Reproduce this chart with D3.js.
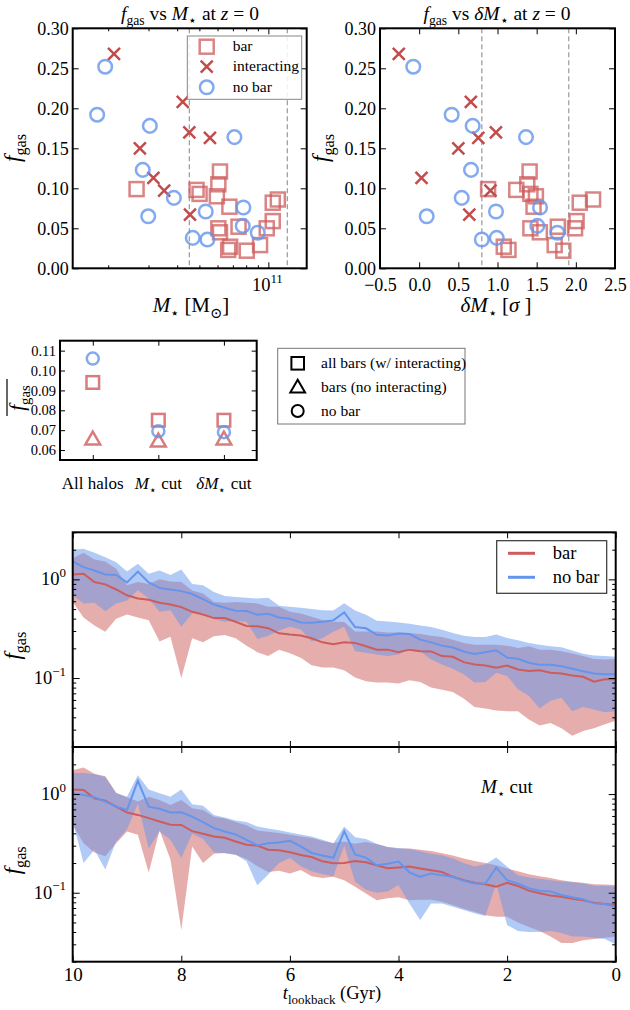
<!DOCTYPE html>
<html><head><meta charset="utf-8">
<script src="https://cdn.jsdelivr.net/npm/d3@7"></script>
<style>body{margin:0;background:#fff}svg{display:block}svg text{font-family:'Liberation Serif','DejaVu Serif',serif}</style>
</head><body>
<svg id="c" width="630" height="1010"></svg>
<script>
// ---------------- DATA ----------------
// z=0 scatter: barred (non-interacting), interacting, unbarred
const barMass  = [2.66e10,6.15e10,6.05e10,4.86e10,5.01e10,5.96e10,6.76e10,6.05e10,6.15e10,6.81e10,6.68e10,8.05e10,9.20e10,1.045e11,1.045e11,1.10e11,9.84e10,7.41e10];
const barDelta = [0.88,1.41,1.38,1.24,1.42,1.49,1.46,1.42,1.54,1.08,1.14,1.84,1.73,2.01,2.05,2.22,1.99,1.77];
const barFgas  = [0.099,0.121,0.105,0.098,0.093,0.090,0.077,0.050,0.045,0.027,0.023,0.022,0.029,0.059,0.082,0.086,0.050,0.052];
const intMass  = [2.12e10,4.23e10,4.52e10,5.56e10,2.75e10,3.15e10,3.51e10,4.55e10];
const intDelta = [-0.26,0.66,0.98,0.755,0.50,0.03,0.91,0.64];
const intFgas  = [0.268,0.208,0.170,0.163,0.150,0.113,0.097,0.067];
const noMass   = [1.94e10,1.79e10,3.04e10,7.11e10,2.83e10,3.87e10,2.99e10,5.33e10,7.78e10,7.73e10,8.99e10,4.68e10,5.42e10];
const noDelta  = [-0.075,0.415,0.683,1.364,0.662,0.543,0.096,0.981,1.543,1.508,1.764,0.99,0.80];
const noFgas   = [0.252,0.192,0.178,0.164,0.123,0.088,0.065,0.071,0.076,0.053,0.0445,0.038,0.036];
const massCuts  = [4.52e10,1.21e11];
const deltaCuts = [0.80,1.91];
const massDomain  = [1.4e10,1.47e11];
const fgasTicks   = [0,0.05,0.10,0.15,0.20,0.25,0.30];
const massMajor   = [1e11];
const massMinor   = [2e10,3e10,4e10,5e10,6e10,7e10,8e10,9e10];
const deltaTicks  = [-0.5,0,0.5,1.0,1.5,2.0,2.5];

// mean f_gas per selection
const cutKeys       = ['all','mcut','dmcut'];
const meanAllBars   = [0.094,0.075,0.075];
const meanBarsNoInt = [0.065,0.064,0.065];
const meanNoBar     = [0.106,0.0695,0.069];
const meanTicks     = [0.06,0.07,0.08,0.09,0.10,0.11];

// time evolution
const tLook = [10.0,9.8,9.6,9.4,9.2,9.0,8.8,8.6,8.4,8.2,8.0,7.8,7.6,7.4,7.2,7.0,6.8,6.6,6.4,6.2,6.0,5.8,5.6,5.4,5.2,5.0,4.8,4.6,4.4,4.2,4.0,3.8,3.6,3.4,3.2,3.0,2.8,2.6,2.4,2.2,2.0,1.8,1.6,1.4,1.2,1.0,0.8,0.6,0.4,0.2,0.0];
// all halos
const barMedAll = [1.12,1.14,0.94,0.89,0.79,0.69,0.64,0.62,0.58,0.556, 0.523,0.469,0.44,0.405,0.405,0.372,0.337,0.335,0.32,0.284, 0.276,0.27,0.253,0.23,0.22,0.23,0.227,0.21,0.194,0.194, 0.183,0.194,0.187,0.186,0.167,0.164,0.145,0.137,0.134,0.127, 0.134,0.122,0.118,0.12,0.113,0.111,0.106,0.103,0.092,0.097, 0.097];
const barHiAll  = [1.64,1.86,1.59,1.52,1.28,0.87,0.94,0.9,1.0,0.95, 0.94,0.77,0.72,0.59,0.58,0.59,0.58,0.57,0.527,0.527, 0.469,0.45,0.418,0.387,0.372,0.37,0.297,0.297,0.297,0.29, 0.29,0.286,0.28,0.269,0.26,0.245,0.227,0.218,0.218,0.218, 0.213,0.202,0.21,0.194,0.194,0.187,0.177,0.167,0.156,0.154, 0.156];
const barLoAll  = [0.59,0.41,0.34,0.295,0.4,0.44,0.41,0.386,0.234,0.262, 0.1,0.253,0.23,0.265,0.273,0.253,0.213,0.183,0.167,0.194, 0.178,0.161,0.135,0.128,0.128,0.12,0.101,0.093,0.09,0.09, 0.088,0.095,0.091,0.08,0.076,0.072,0.062,0.051,0.049,0.047, 0.046,0.046,0.038,0.033,0.035,0.031,0.026,0.029,0.031,0.034, 0.037];
const noMedAll  = [1.52,1.33,1.23,1.12,1.11,0.93,1.20,0.93,0.82,0.79, 0.76,0.71,0.63,0.556,0.515,0.48,0.477,0.438,0.448,0.411, 0.399,0.366,0.364,0.372,0.384,0.462,0.329,0.319,0.275,0.27, 0.282,0.28,0.245,0.23,0.213,0.204,0.186,0.175,0.183,0.191, 0.161,0.157,0.143,0.136,0.136,0.132,0.124,0.117,0.111,0.109, 0.109];
const noHiAll   = [2.0,2.04,1.86,1.68,1.49,1.20,1.44,1.14,1.23,1.11, 1.26,0.90,0.87,0.745,0.68,0.664,0.65,0.64,0.65,0.54, 0.527,0.515,0.50,0.487,0.484,0.574,0.484,0.437,0.381,0.375, 0.366,0.355,0.34,0.329,0.309,0.286,0.269,0.26,0.26,0.276, 0.255,0.241,0.227,0.218,0.21,0.205,0.19,0.176,0.169,0.167, 0.164];
const noLoAll   = [0.69,0.57,0.58,0.476,0.57,0.61,0.775,0.64,0.469,0.487, 0.331,0.45,0.46,0.396,0.372,0.378,0.372,0.249,0.269,0.304, 0.331,0.31,0.234,0.253,0.295,0.331,0.187,0.18,0.173,0.167, 0.173,0.2,0.187,0.154,0.137,0.124,0.109,0.09,0.091,0.113, 0.105,0.077,0.066,0.049,0.059,0.063,0.046,0.051,0.048,0.045, 0.046];
// M* cut
const barMedCut = [1.11,1.10,0.905,0.857,0.745,0.65,0.615,0.57,0.527,0.49, 0.487,0.421,0.396,0.372,0.36,0.331,0.307,0.3,0.273,0.269, 0.257,0.241,0.23,0.208,0.199,0.2,0.21,0.204,0.19,0.177, 0.18,0.184,0.176,0.169,0.162,0.145,0.134,0.126,0.122,0.115, 0.126,0.117,0.105,0.099,0.094,0.091,0.087,0.084,0.079,0.077, 0.075];
const barHiCut  = [1.74,1.86,1.61,1.52,1.03,0.93,0.84,0.94,0.87,0.775, 0.87,0.72,0.69,0.59,0.565,0.52,0.483,0.427,0.414,0.402, 0.386,0.372,0.358,0.334,0.319,0.33,0.314,0.326,0.31,0.29, 0.28,0.28,0.273,0.265,0.252,0.238,0.222,0.21,0.2,0.19, 0.176,0.165,0.154,0.147,0.141,0.134,0.129,0.126,0.122,0.121, 0.12];
const barLoCut  = [0.49,0.318,0.256,0.234,0.318,0.418,0.386,0.16,0.43,0.217, 0.042,0.295,0.2,0.249,0.253,0.243,0.22,0.186,0.162,0.167, 0.157,0.17,0.147,0.141,0.145,0.134,0.115,0.098,0.084,0.088, 0.09,0.084,0.085,0.085,0.081,0.075,0.069,0.064,0.059,0.057, 0.057,0.05,0.045,0.041,0.036,0.031,0.031,0.033,0.034,0.035, 0.036];
const noMedCut  = [1.02,0.98,0.93,0.84,0.745,0.69,1.36,0.745,0.71,0.65, 0.654,0.59,0.52,0.451,0.418,0.39,0.344,0.302,0.318,0.323, 0.336,0.295,0.253,0.238,0.226,0.42,0.245,0.227,0.19,0.197, 0.207,0.161,0.145,0.157,0.15,0.145,0.132,0.124,0.124,0.18, 0.134,0.124,0.111,0.105,0.103,0.095,0.09,0.086,0.078,0.077, 0.072];
const noHiCut   = [1.64,1.64,1.59,1.49,1.02,0.94,1.55,1.11,1.02,0.94, 1.11,0.79,0.76,0.615,0.58,0.54,0.52,0.469,0.448,0.43, 0.408,0.39,0.372,0.344,0.315,0.47,0.366,0.35,0.314,0.29, 0.284,0.277,0.263,0.249,0.24,0.222,0.2,0.185,0.194,0.227, 0.183,0.15,0.143,0.139,0.134,0.13,0.128,0.124,0.118,0.118, 0.115];
const noLoCut   = [0.53,0.2,0.273,0.172,0.331,0.44,0.8,0.28,0.418,0.344, 0.225,0.396,0.35,0.257,0.252,0.243,0.208,0.119,0.153,0.2, 0.225,0.186,0.165,0.155,0.147,0.30,0.129,0.107,0.1,0.103, 0.12,0.078,0.053,0.078,0.078,0.072,0.067,0.062,0.058,0.124, 0.047,0.041,0.04,0.04,0.041,0.039,0.036,0.036,0.035,0.034, 0.03];
const timeTicks = [10,8,6,4,2,0];
const logMajor  = [0.1,1];
const logMinor  = [0.02,0.03,0.04,0.05,0.06,0.07,0.08,0.09,0.2,0.3,0.4,0.5,0.6,0.7,0.8,0.9,2,3];

// ---------------- DRAWING ----------------
const SERIF = "'Liberation Serif','DejaVu Serif',serif";
const RED = '#cd5c5c', BLUE = '#6495ed', XRED = '#c24c4c';
const svg = d3.select('#c').attr('font-family', SERIF);

function rich(parent, x, y, parts, fs, anchor, rot) {
  const t = parent.append('text').attr('font-size', fs).attr('text-anchor', anchor || 'start').attr('fill', '#000');
  if (rot) t.attr('transform', `translate(${x},${y}) rotate(-90)`); else t.attr('x', x).attr('y', y);
  let cur = 0;
  parts.forEach(p => {
    const o = typeof p === 'string' ? {t: p} : p;
    const off = o.sub ? fs * 0.28 : o.sup ? -fs * 0.45 : 0;
    const ts = t.append('tspan').attr('dy', off - cur).text(o.t);
    cur = off;
    if (o.sub || o.sup) ts.attr('font-size', fs * 0.7);
    if (o.it) ts.attr('font-style', 'italic');
  });
  return t;
}
function styleAxis(g, fs) {
  g.attr('font-family', SERIF).attr('font-size', fs);
  g.select('.domain').remove();
  g.selectAll('.tick line').attr('stroke', '#000').attr('stroke-width', 1);
  g.selectAll('.tick text').attr('fill', '#000');
}
function frame(b) {
  svg.append('rect').attr('x', b.l).attr('y', b.t).attr('width', b.r - b.l).attr('height', b.b - b.t)
    .attr('fill', 'none').attr('stroke', '#000').attr('stroke-width', 2);
}
const FGAS = [{t:'f', it:true}, {t:'gas', sub:true}];

// ---- top scatter panels ----
const TL = {l:72.7, r:306.7, t:28.3, b:268.3};
const TR = {l:380, r:615, t:28.3, b:268.3};
const xMass = d3.scaleLog().domain(massDomain).range([TL.l, TL.r]);
const xDelta = d3.scaleLinear().domain([-0.5, 2.5]).range([TR.l, TR.r]);
const yFgas = d3.scaleLinear().domain([0, 0.30]).range([TL.b, TL.t]);

function scatterPanel(B, xs, cuts, bx, ix, nx) {
  const g = svg.append('g');
  g.selectAll('line.cut').data(cuts).join('line')
    .attr('x1', d => xs(d)).attr('x2', d => xs(d)).attr('y1', B.t).attr('y2', B.b)
    .attr('stroke', '#999').attr('stroke-width', 1.2).attr('stroke-dasharray', '5,3');
  g.selectAll('rect.sq').data(barFgas).join('rect')
    .attr('x', (d, i) => xs(bx[i]) - 7).attr('y', d => yFgas(d) - 7).attr('width', 14).attr('height', 14)
    .attr('fill', 'none').attr('stroke', RED).attr('stroke-opacity', 0.75).attr('stroke-width', 2.5);
  g.selectAll('path.x').data(intFgas).join('path')
    .attr('d', (d, i) => { const x = xs(ix[i]), y = yFgas(d); return `M${x-6},${y-6}L${x+6},${y+6}M${x-6},${y+6}L${x+6},${y-6}`; })
    .attr('fill', 'none').attr('stroke', XRED).attr('stroke-width', 2.5);
  g.selectAll('circle').data(noFgas).join('circle')
    .attr('cx', (d, i) => xs(nx[i])).attr('cy', d => yFgas(d)).attr('r', 6.8)
    .attr('fill', 'none').attr('stroke', BLUE).attr('stroke-opacity', 0.8).attr('stroke-width', 2.5);
  styleAxis(svg.append('g').attr('transform', `translate(${B.l},0)`)
    .call(d3.axisLeft(yFgas).tickValues(fgasTicks).tickSize(-6).tickPadding(4).tickFormat(d3.format('.2f'))), 18);
  styleAxis(svg.append('g').attr('transform', `translate(${B.r},0)`)
    .call(d3.axisRight(yFgas).tickValues(fgasTicks).tickSize(-6).tickFormat('')), 18);
}
scatterPanel(TL, xMass, massCuts, barMass, intMass, noMass);
scatterPanel(TR, xDelta, deltaCuts, barDelta, intDelta, noDelta);

[[d3.axisBottom, TL.b], [d3.axisTop, TL.t]].forEach(([A, y]) => {
  styleAxis(svg.append('g').attr('transform', `translate(0,${y})`).call(A(xMass).tickValues(massMajor).tickSize(-6).tickFormat('')), 18);
  styleAxis(svg.append('g').attr('transform', `translate(0,${y})`).call(A(xMass).tickValues(massMinor).tickSize(-3).tickFormat('')), 18);
});
massMajor.forEach(v => rich(svg, xMass(v) - 1, 291, ['10', {t:'11', sup:true}], 18.5, 'middle'));
const fmtDelta = d => (d < 0 ? '\u2212' : '') + Math.abs(d).toFixed(1);
styleAxis(svg.append('g').attr('transform', `translate(0,${TR.b})`).call(d3.axisBottom(xDelta).tickValues(deltaTicks).tickSize(-6).tickPadding(9.5).tickFormat(fmtDelta)), 18);
styleAxis(svg.append('g').attr('transform', `translate(0,${TR.t})`).call(d3.axisTop(xDelta).tickValues(deltaTicks).tickSize(-6).tickFormat('')), 18);

// legend top-left
const lg = svg.append('g');
lg.append('rect').attr('x', 187.3).attr('y', 36).attr('width', 114.4).attr('height', 63.3)
  .attr('fill', '#fff').attr('fill-opacity', 0.85).attr('stroke', '#888').attr('stroke-width', 1);
lg.append('rect').attr('x', 206.7 - 7).attr('y', 46.7 - 7).attr('width', 14).attr('height', 14)
  .attr('fill', 'none').attr('stroke', RED).attr('stroke-opacity', 0.75).attr('stroke-width', 2.5);
lg.append('path').attr('d', 'M200.7,60.7L212.7,72.7M200.7,72.7L212.7,60.7').attr('stroke', XRED).attr('stroke-width', 2.5);
lg.append('circle').attr('cx', 206.7).attr('cy', 87.3).attr('r', 6.8).attr('fill', 'none')
  .attr('stroke', BLUE).attr('stroke-opacity', 0.8).attr('stroke-width', 2.5);
[['bar', 46.7], ['interacting', 66.7], ['no bar', 87.3]].forEach(([s, y]) =>
  lg.append('text').attr('x', 232.7).attr('y', y + 4.5).attr('font-size', 15.5).text(s));

frame(TL); frame(TR);
rich(svg, 190, 20, [...FGAS, ' vs ', {t:'M', it:true}, {t:'\u22c6', sub:true}, ' at ', {t:'z', it:true}, ' = 0'], 19.5, 'middle');
rich(svg, 497, 20, [...FGAS, ' vs ', {t:'\u03b4', it:true}, {t:'M', it:true}, {t:'\u22c6', sub:true}, ' at ', {t:'z', it:true}, ' = 0'], 19.5, 'middle');
rich(svg, 20, 148, FGAS, 23, 'middle', true);
rich(svg, 328, 148, FGAS, 23, 'middle', true);
rich(svg, 191, 312, [{t:'M', it:true}, {t:'\u22c6', sub:true}, ' [M', {t:'\u2299', sub:true}, ']'], 21, 'middle');
rich(svg, 496, 312, [{t:'\u03b4', it:true}, {t:'M', it:true}, {t:'\u22c6', sub:true}, ' [', {t:'\u03c3', it:true}, ' ]'], 21, 'middle');

// ---- middle panel ----
const MID = {l:60, r:256.7, t:340.7, b:460};
const xCat = d3.scalePoint().domain(cutKeys).range([MID.l, MID.r]).padding(0.5);
const yMean = d3.scaleLinear().domain([0.055, 0.115]).range([MID.b, MID.t]);
const mg = svg.append('g');
mg.selectAll('rect').data(meanAllBars).join('rect')
  .attr('x', (d, i) => xCat(cutKeys[i]) - 6.3).attr('y', d => yMean(d) - 6.3).attr('width', 12.6).attr('height', 12.6)
  .attr('fill', 'none').attr('stroke', RED).attr('stroke-opacity', 0.8).attr('stroke-width', 2.5);
mg.selectAll('path').data(meanBarsNoInt).join('path')
  .attr('transform', (d, i) => `translate(${xCat(cutKeys[i])},${yMean(d)})`)
  .attr('d', d3.symbol(d3.symbolTriangle, 95)())
  .attr('fill', 'none').attr('stroke', RED).attr('stroke-opacity', 0.8).attr('stroke-width', 2.5);
mg.selectAll('circle').data(meanNoBar).join('circle')
  .attr('cx', (d, i) => xCat(cutKeys[i])).attr('cy', d => yMean(d)).attr('r', 6)
  .attr('fill', 'none').attr('stroke', BLUE).attr('stroke-opacity', 0.8).attr('stroke-width', 2.5);
styleAxis(svg.append('g').attr('transform', `translate(${MID.l},0)`)
  .call(d3.axisLeft(yMean).tickValues(meanTicks).tickSize(-5).tickPadding(4).tickFormat(d3.format('.2f'))), 14.5);
styleAxis(svg.append('g').attr('transform', `translate(${MID.r},0)`)
  .call(d3.axisRight(yMean).tickValues(meanTicks).tickSize(-5).tickFormat('')), 14);
styleAxis(svg.append('g').attr('transform', `translate(0,${MID.b})`).call(d3.axisBottom(xCat).tickSize(-5).tickFormat('')), 14);
styleAxis(svg.append('g').attr('transform', `translate(0,${MID.t})`).call(d3.axisTop(xCat).tickSize(-5).tickFormat('')), 14);
frame(MID);
rich(svg, xCat('all'), 489, ['All halos'], 17, 'middle');
rich(svg, xCat('mcut'), 489, [{t:'M', it:true}, {t:'\u22c6', sub:true}, ' cut'], 17, 'middle');
rich(svg, xCat('dmcut'), 489, [{t:'\u03b4', it:true}, {t:'M', it:true}, {t:'\u22c6', sub:true}, ' cut'], 17, 'middle');
rich(svg, 24, 398, FGAS, 21, 'middle', true);
svg.append('line').attr('x1', 7).attr('x2', 7).attr('y1', 379).attr('y2', 416).attr('stroke', '#000').attr('stroke-width', 1.2);
const ml = svg.append('g');
ml.append('rect').attr('x', 277.7).attr('y', 348.3).attr('width', 187.3).attr('height', 75.7)
  .attr('fill', '#fff').attr('stroke', '#777').attr('stroke-width', 1);
ml.append('rect').attr('x', 297.7 - 6.3).attr('y', 363.3 - 6.3).attr('width', 12.6).attr('height', 12.6)
  .attr('fill', 'none').attr('stroke', '#000').attr('stroke-width', 2);
ml.append('path').attr('transform', 'translate(297.7,388.3)').attr('d', d3.symbol(d3.symbolTriangle, 95)())
  .attr('fill', 'none').attr('stroke', '#000').attr('stroke-width', 2);
ml.append('circle').attr('cx', 297.7).attr('cy', 411).attr('r', 6).attr('fill', 'none').attr('stroke', '#000').attr('stroke-width', 2);
[['all bars (w/ interacting)', 363.3], ['bars (no interacting)', 387.3], ['no bar', 411]].forEach(([s, y]) =>
  ml.append('text').attr('x', 321).attr('y', y + 4.5).attr('font-size', 15.5).text(s));

// ---- bottom time panels ----
const xT = d3.scaleLinear().domain([10, 0]).range([72.7, 615.7]);
const bottom = [
  {t:532.3, b:747, bar:[barLoAll, barMedAll, barHiAll], no:[noLoAll, noMedAll, noHiAll], labels:false, note:false},
  {t:747, b:961.7, bar:[barLoCut, barMedCut, barHiCut], no:[noLoCut, noMedCut, noHiCut], labels:true, note:true}
];
bottom.forEach((P, pi) => {
  const B = {l:72.7, r:615.7, t:P.t, b:P.b};
  const y = d3.scaleLog().domain([0.02, 3]).range([B.b, B.t]);
  const clipId = 'clip' + pi;
  svg.append('clipPath').attr('id', clipId).append('rect').attr('x', B.l).attr('y', B.t).attr('width', B.r - B.l).attr('height', B.b - B.t);
  const g = svg.append('g').attr('clip-path', `url(#${clipId})`);
  const area = arr => d3.area().x((d, i) => xT(tLook[i])).y0((d, i) => y(arr[0][i])).y1((d, i) => y(arr[2][i]));
  const line = arr => d3.line().x((d, i) => xT(tLook[i])).y((d, i) => y(arr[1][i]));
  g.append('path').datum(tLook).attr('d', area(P.bar)).attr('fill', RED).attr('fill-opacity', 0.5);
  g.append('path').datum(tLook).attr('d', area(P.no)).attr('fill', BLUE).attr('fill-opacity', 0.5);
  g.append('path').datum(tLook).attr('d', line(P.bar)).attr('fill', 'none').attr('stroke', RED).attr('stroke-width', 2);
  g.append('path').datum(tLook).attr('d', line(P.no)).attr('fill', 'none').attr('stroke', BLUE).attr('stroke-width', 2);
  [[d3.axisLeft, B.l], [d3.axisRight, B.r]].forEach(([A, x]) => {
    styleAxis(svg.append('g').attr('transform', `translate(${x},0)`).call(A(y).tickValues(logMajor).tickSize(-7).tickFormat('')), 18);
    styleAxis(svg.append('g').attr('transform', `translate(${x},0)`).call(A(y).tickValues(logMinor).tickSize(-3.5).tickFormat('')), 18);
  });
  styleAxis(svg.append('g').attr('transform', `translate(0,${B.b})`).call(d3.axisBottom(xT).tickValues(timeTicks).tickSize(-6).tickPadding(6).tickFormat(P.labels ? d3.format('d') : '')), 19);
  styleAxis(svg.append('g').attr('transform', `translate(0,${B.t})`).call(d3.axisTop(xT).tickValues(timeTicks).tickSize(-6).tickFormat('')), 18);
  logMajor.forEach(v => rich(svg, 66, y(v) + 6, ['10', {t: v === 1 ? '0' : '\u22121', sup:true}], 18.5, 'end'));
  frame(B);
  rich(svg, 20, (B.t + B.b) / 2 + 6, FGAS, 23, 'middle', true);
  if (P.note) rich(svg, 481, 793, [{t:'M', it:true}, {t:'\u22c6', sub:true}, ' cut'], 19, 'start');
});
const bl = svg.append('g');
bl.append('rect').attr('x', 496.7).attr('y', 540.7).attr('width', 110).attr('height', 52.6)
  .attr('fill', '#fff').attr('stroke', '#333').attr('stroke-width', 1.2);
[[RED, 'bar', 553.3], [BLUE, 'no bar', 577.3]].forEach(([c, s, yy]) => {
  bl.append('line').attr('x1', 508).attr('x2', 535).attr('y1', yy).attr('y2', yy).attr('stroke', c).attr('stroke-width', 3);
  bl.append('text').attr('x', 552.7).attr('y', yy + 5.5).attr('font-size', 18.5).text(s);
});
rich(svg, 332, 999, [{t:'t', it:true}, {t:'lookback', sub:true}, ' (Gyr)'], 18.5, 'middle');
</script>
</body></html>
